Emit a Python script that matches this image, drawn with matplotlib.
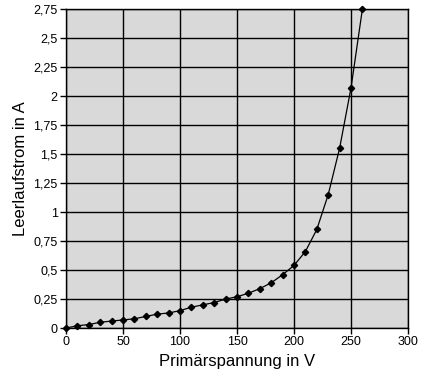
import matplotlib
matplotlib.use("Agg")
import matplotlib.pyplot as plt
from matplotlib.ticker import FuncFormatter, MultipleLocator

plt.rcParams['font.family'] = ['Liberation Sans', 'DejaVu Sans']

# Primaerspannung (V) und Leerlaufstrom (A)
spannung = [0, 10, 20, 30, 40, 50, 60, 70, 80, 90, 100, 110, 120, 130,
            140, 150, 160, 170, 180, 190, 200, 210, 220, 230, 240, 250, 260]
strom = [0.0, 0.02, 0.03, 0.05, 0.06, 0.07, 0.08, 0.10, 0.12, 0.13, 0.15,
         0.18, 0.20, 0.22, 0.25, 0.27, 0.30, 0.34, 0.39, 0.46, 0.54, 0.66,
         0.85, 1.15, 1.55, 2.07, 2.75]

fig = plt.figure(figsize=(4.29, 3.81), dpi=100)
ax = fig.add_axes([0.154, 0.139, 0.797, 0.837])
ax.set_facecolor("#d9d9d9")

ax.plot(spannung, strom, color="black", linewidth=0.9, marker="D",
        markersize=3.2, zorder=3, clip_on=False)

ax.set_xlim(0, 300)
ax.set_ylim(0, 2.75)
ax.xaxis.set_major_locator(MultipleLocator(50))
ax.yaxis.set_major_locator(MultipleLocator(0.25))
ax.yaxis.set_major_formatter(FuncFormatter(lambda v, p: f"{v:g}".replace(".", ",")))
ax.grid(True, color="black", linewidth=1.0)
ax.set_axisbelow(True)
for s in ax.spines.values():
    s.set_color("black")
    s.set_linewidth(1.0)
ax.tick_params(direction="out", length=4, width=1, labelsize=9, pad=2)

ax.set_xlabel("Primärspannung in V", fontsize=12, labelpad=4)
ax.set_ylabel("Leerlaufstrom in A", fontsize=12, labelpad=4)

fig.savefig("out.png", dpi=100)
plt.close(fig)
